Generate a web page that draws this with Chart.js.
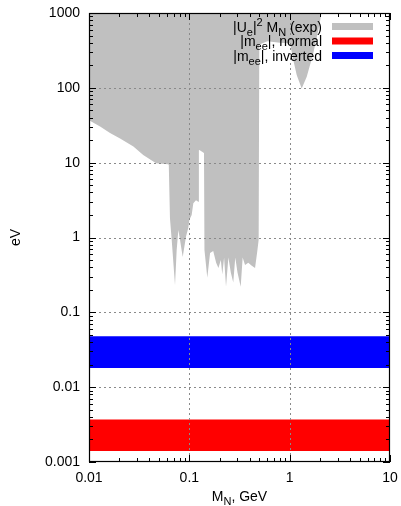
<!DOCTYPE html>
<html><head><meta charset="utf-8">
<script src="https://cdn.jsdelivr.net/npm/chart.js@4/dist/chart.umd.min.js"></script>
<style>html,body{margin:0;padding:0;background:#fff;overflow:hidden}</style>
</head><body>
<canvas id="c" width="401" height="506"></canvas>
<script>
// ---- data ----
const xTickLabels = ['0.01', '0.1', '1', '10'];
const yTickLabels = ['0.001', '0.01', '0.1', '1', '10', '100', '1000'];

// lower boundary of the excluded |Ue|^2 M_N region (filled up to the top)
const expMass = [0.01, 0.0129, 0.0162, 0.0204, 0.0277, 0.0347, 0.0466, 0.0614, 0.0624,
  0.0641, 0.0667, 0.072, 0.0748, 0.0777, 0.0807, 0.0859, 0.0927, 0.0977, 0.1, 0.1055, 0.1096, 0.1165, 0.1228,
  0.1245, 0.126, 0.140,
  0.1415, 0.151, 0.161, 0.173, 0.185, 0.195, 0.206, 0.213, 0.222, 0.232, 0.245, 0.259, 0.274, 0.287,
  0.302, 0.325, 0.34, 0.359, 0.387, 0.419, 0.452, 0.476, 0.491,
  0.498, 0.6, 0.8, 1.008, 1.087, 1.175, 1.318, 1.48, 1.72, 1.93, 2.08];
const expBound = [37, 30.4, 25, 21, 16.4, 12.7, 9.8, 9.5, 9.4,
  1.81, 0.93, 0.23, 0.68, 1.26, 0.93, 0.55, 1.03, 1.35, 1.71, 2.0, 2.86, 3.15, 3.0,
  14.6, 14.8, 13.5,
  0.68, 0.29, 0.62, 0.66, 0.46, 0.39, 0.5, 0.32, 0.54, 0.22, 0.54, 0.34, 0.25, 0.54,
  0.34, 0.22, 0.54, 0.43, 0.46, 0.42, 0.39, 0.66, 0.93,
  380, 420, 400, 394, 236, 148, 98, 141, 289, 593, 1000];

const bandMass = [0.01, 10];
const normalBand = [0.0014, 0.0037];   // |m_ee|, normal hierarchy
const invertedBand = [0.018, 0.048];   // |m_ee|, inverted hierarchy

// ---- helpers ----
const FONT = '"Liberation Sans", Arial, Helvetica, sans-serif';
function logTicks(min, max) {
  const out = [];
  const e0 = Math.round(Math.log10(min)), e1 = Math.round(Math.log10(max));
  for (let e = e0; e <= e1; e++) {
    for (let m = 1; m <= 9; m++) {
      const v = Number((m * Math.pow(10, e)).toPrecision(12));
      if (v >= min * 0.999 && v <= max * 1.001) out.push({ value: v });
    }
  }
  return out;
}
function majorLabel(v, labels, min) {
  const e = Math.log10(v), r = Math.round(e);
  if (Math.abs(e - r) < 1e-9) return labels[r - Math.round(Math.log10(min))];
  return '';
}
function isMajor(v) { const e = Math.log10(v); return Math.abs(e - Math.round(e)) < 1e-9; }

function drawRich(ctx, pieces, x, y, align) {
  const big = '14px ' + FONT, small = '11px ' + FONT;
  let w = 0;
  pieces.forEach(p => { ctx.font = p[1] === 'n' ? big : small; w += ctx.measureText(p[0]).width; });
  let cx = align === 'right' ? x - w : (align === 'center' ? x - w / 2 : x);
  ctx.textAlign = 'left';
  ctx.textBaseline = 'alphabetic';
  pieces.forEach(p => {
    ctx.font = p[1] === 'n' ? big : small;
    const dy = p[1] === 'sub' ? 4 : (p[1] === 'sup' ? -6 : 0);
    ctx.fillText(p[0], cx, y + dy);
    cx += ctx.measureText(p[0]).width;
  });
}

const framePlugin = {
  id: 'frame',
  afterDatasetsDraw(chart) {
    const ctx = chart.ctx, a = chart.chartArea;
    const xs = chart.scales.x, ys = chart.scales.y;
    ctx.save();
    // dotted grid at decades
    ctx.strokeStyle = '#8a8a8a';
    ctx.lineWidth = 1;
    ctx.setLineDash([2, 3]);
    xs.ticks.forEach(t => {
      if (!isMajor(t.value)) return;
      const p = Math.round(xs.getPixelForValue(t.value)) + 0.5;
      if (p < a.left + 2 || p > a.right - 2) return;
      ctx.beginPath(); ctx.moveTo(p, a.top); ctx.lineTo(p, a.bottom); ctx.stroke();
    });
    ys.ticks.forEach(t => {
      if (!isMajor(t.value)) return;
      const p = Math.round(ys.getPixelForValue(t.value)) + 0.5;
      if (p < a.top + 2 || p > a.bottom - 2) return;
      ctx.beginPath(); ctx.moveTo(a.left, p); ctx.lineTo(a.right, p); ctx.stroke();
    });
    ctx.setLineDash([]);
    // inward tick marks on all four sides
    ctx.strokeStyle = '#000';
    xs.ticks.forEach(t => {
      const p = Math.round(xs.getPixelForValue(t.value)) + 0.5;
      const L = isMajor(t.value) ? 7 : 4;
      ctx.beginPath();
      ctx.moveTo(p, a.bottom); ctx.lineTo(p, a.bottom - L);
      ctx.moveTo(p, a.top); ctx.lineTo(p, a.top + L);
      ctx.stroke();
    });
    ys.ticks.forEach(t => {
      const p = Math.round(ys.getPixelForValue(t.value)) + 0.5;
      const L = isMajor(t.value) ? 7 : 4;
      ctx.beginPath();
      ctx.moveTo(a.left, p); ctx.lineTo(a.left + L, p);
      ctx.moveTo(a.right, p); ctx.lineTo(a.right - L, p);
      ctx.stroke();
    });
    // frame
    ctx.lineWidth = 1.2;
    ctx.strokeRect(a.left + 0.5, a.top + 0.5, a.right - a.left - 1, a.bottom - a.top - 1);
    ctx.restore();
  },
  afterDraw(chart) {
    const ctx = chart.ctx, a = chart.chartArea;
    ctx.save();
    ctx.fillStyle = '#000';
    // legend
    const rows = [
      { pieces: [['|U', 'n'], ['e', 'sub'], ['|', 'n'], ['2', 'sup'], [' M', 'n'], ['N', 'sub'], [' (exp)', 'n']], color: '#c0c0c0', y: 26.5 },
      { pieces: [['|m', 'n'], ['ee', 'sub'], ['|, normal', 'n']], color: '#ff0000', y: 41 },
      { pieces: [['|m', 'n'], ['ee', 'sub'], ['|, inverted', 'n']], color: '#0000ff', y: 55.5 }
    ];
    rows.forEach(r => {
      ctx.fillStyle = '#000';
      drawRich(ctx, r.pieces, 322, r.y + 5, 'right');
      ctx.fillStyle = r.color;
      ctx.fillRect(332, r.y - 3.5, 41, 7);
    });
    ctx.fillStyle = '#000';
    // x title
    drawRich(ctx, [['M', 'n'], ['N', 'sub'], [', GeV', 'n']], (a.left + a.right) / 2, 501, 'center');
    // y title
    ctx.save();
    ctx.translate(20, (a.top + a.bottom) / 2);
    ctx.rotate(-Math.PI / 2);
    ctx.font = '14px ' + FONT;
    ctx.textAlign = 'center';
    ctx.textBaseline = 'alphabetic';
    ctx.fillText('eV', 0, 0);
    ctx.restore();
    ctx.restore();
  }
};

const xy = (xs, ys) => xs.map((x, i) => ({ x: x, y: ys[i] }));

new Chart(document.getElementById('c'), {
  type: 'line',
  data: {
    datasets: [
      {
        label: '|Ue|^2 M_N (exp)',
        data: xy(expMass, expBound),
        fill: 'end',
        backgroundColor: '#c0c0c0',
        borderColor: 'rgba(0,0,0,0)',
        borderWidth: 0, pointRadius: 0, tension: 0
      },
      {
        label: '|m_ee|, normal',
        data: xy(bandMass, [normalBand[1], normalBand[1]]),
        fill: { value: normalBand[0] },
        backgroundColor: '#ff0000',
        borderColor: 'rgba(0,0,0,0)',
        borderWidth: 0, pointRadius: 0, tension: 0
      },
      {
        label: '|m_ee|, inverted',
        data: xy(bandMass, [invertedBand[1], invertedBand[1]]),
        fill: { value: invertedBand[0] },
        backgroundColor: '#0000ff',
        borderColor: 'rgba(0,0,0,0)',
        borderWidth: 0, pointRadius: 0, tension: 0
      }
    ]
  },
  options: {
    responsive: false,
    animation: false,
    devicePixelRatio: 1,
    layout: { padding: { top: 13, right: 11, left: 0, bottom: 0 } },
    plugins: { legend: { display: false }, tooltip: { enabled: false } },
    scales: {
      x: {
        type: 'logarithmic', position: 'bottom', min: 0.01, max: 10,
        grid: { display: false, drawTicks: true, tickLength: 8 },
        border: { display: false },
        afterBuildTicks: s => { s.ticks = logTicks(0.01, 10); },
        afterFit: s => { s.height = 44; },
        ticks: {
          autoSkip: false, maxRotation: 0, minRotation: 0, padding: 0, color: '#000',
          font: { family: FONT, size: 14 },
          callback: v => majorLabel(v, xTickLabels, 0.01)
        }
      },
      y: {
        type: 'logarithmic', position: 'left', min: 0.001, max: 1000,
        grid: { display: false, drawTicks: true, tickLength: 9 },
        border: { display: false },
        afterBuildTicks: s => { s.ticks = logTicks(0.001, 1000); },
        afterFit: s => { s.width = 89; },
        ticks: {
          autoSkip: false, padding: 0, color: '#000',
          font: { family: FONT, size: 14 },
          callback: v => majorLabel(v, yTickLabels, 0.001)
        }
      }
    }
  },
  plugins: [framePlugin]
});
</script>
</body></html>
